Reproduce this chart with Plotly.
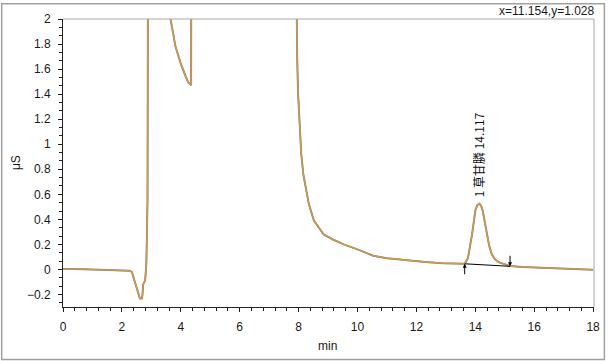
import plotly.graph_objects as go

# ---- data (min, µS) ----
time_min = [0.0, 0.3, 1.0, 1.5, 2.0, 2.25, 2.34, 2.42, 2.53, 2.61, 2.68, 2.70, 2.72,
            2.79, 2.83, 2.87, 2.89, 3.2, 3.6, 3.65, 3.82, 3.99, 4.15, 4.26, 4.32,
            4.35, 4.36, 6.0, 7.9, 7.92, 7.95, 7.98, 8.04, 8.09, 8.16, 8.24, 8.35,
            8.52, 8.85, 9.2, 9.53, 10.0, 10.53, 11.0, 11.76, 12.3, 12.88, 13.3,
            13.64, 13.75, 13.89, 14.0, 14.07, 14.14, 14.2, 14.25, 14.32, 14.39,
            14.47, 14.56, 14.67, 14.79, 15.0, 15.18, 15.6, 16.24, 17.0, 18.0]
signal_uS = [0.003, 0.004, 0.0, -0.002, -0.004, -0.01, -0.02, -0.087, -0.166, -0.232, -0.232, -0.2, -0.12,
             -0.087, 0.045, 0.55, 3.0, 3.5, 2.3, 2.0, 1.78, 1.65, 1.55, 1.49, 1.48,
             1.47, 3.0, 3.5, 3.0, 2.0, 1.71, 1.415, 1.15, 0.92, 0.76, 0.65, 0.52,
             0.39, 0.28, 0.235, 0.20, 0.16, 0.11, 0.09, 0.071, 0.06, 0.05, 0.047,
             0.045, 0.09, 0.28, 0.47, 0.515, 0.525, 0.505, 0.47, 0.38, 0.28,
             0.19, 0.12, 0.08, 0.058, 0.038, 0.027, 0.02, 0.013, 0.008, -0.002]

series_names = ["run 1", "run 2", "run 3"]
series_colors = ["#a0a0a0", "#8c7cc4", "#d9a11a"]
series_widths = [2.0, 1.5, 1.1]

baseline_x = [13.64, 15.18]
baseline_y = [0.045, 0.025]

peak_label = "1 草甘膦 14.117"
peak_label_x = 14.11
peak_label_y = 0.56

cursor_text = "x=11.154,y=1.028"

x_ticks = [0, 2, 4, 6, 8, 10, 12, 14, 16, 18]
y_ticks = [-0.2, 0, 0.2, 0.4, 0.6, 0.8, 1, 1.2, 1.4, 1.6, 1.8, 2]

# ---- layout geometry ----
W, H = 612, 361
L, R, T, B = 63, 600, 16, 307

def px(xp):
    return (xp - L) / (R - L)

def py(yp):
    return (B - yp) / (B - T)

fig = go.Figure()
for name, col, w in zip(series_names, series_colors, series_widths):
    fig.add_trace(go.Scatter(x=time_min, y=signal_uS, mode="lines", name=name,
                             line=dict(color=col, width=w), hoverinfo="skip"))

fig.add_trace(go.Scatter(x=baseline_x, y=baseline_y, mode="lines",
                         line=dict(color="#000000", width=1), hoverinfo="skip"))

font = dict(family="Liberation Sans, Arial, sans-serif", size=12, color="#1a1a1a")

fig.update_layout(
    width=W, height=H,
    margin=dict(l=L, r=W - R, t=T, b=H - B, pad=0),
    paper_bgcolor="white", plot_bgcolor="white",
    showlegend=False,
    font=font,
    xaxis=dict(range=[0, 18.03], tickvals=x_ticks, showgrid=False, zeroline=False,
               showline=True, linecolor="#222222", linewidth=1,
               ticks="outside", ticklen=4, tickcolor="#222222",
               ticklabelstandoff=5,
               minor=dict(dtick=0.4, ticks="outside", ticklen=3, tickcolor="#222222")),
    yaxis=dict(range=[-0.3, 2.0], tickvals=y_ticks, showgrid=False, zeroline=False,
               showline=True, linecolor="#222222", linewidth=1,
               ticks="outside", ticklen=4, tickcolor="#222222",
               ticklabelstandoff=5,
               minor=dict(dtick=0.2 / 3, tick0=0, ticks="outside", ticklen=3, tickcolor="#222222")),
)

shapes = [
    dict(type="line", xref="paper", yref="paper", x0=0, x1=1, y0=1, y1=1,
         line=dict(color="#a8a8a8", width=1)),
    dict(type="line", xref="paper", yref="paper", x0=1, x1=1, y0=0, y1=1,
         line=dict(color="#a8a8a8", width=1)),
    dict(type="rect", xref="paper", yref="paper", x0=px(1), x1=px(610.5), y0=py(360), y1=py(0.5),
         line=dict(color="#a0a0a0", width=1.5), fillcolor="rgba(0,0,0,0)"),
]
fig.update_layout(shapes=shapes)

annotations = [
    dict(text=peak_label, x=peak_label_x, y=peak_label_y, xref="x", yref="y",
         textangle=-90, showarrow=False, xanchor="center", yanchor="bottom",
         font=dict(family="Noto Sans CJK SC, sans-serif", size=12, color="#111111")),
    dict(x=baseline_x[0], y=baseline_y[0], xref="x", yref="y", ax=0, ay=12,
         showarrow=True, arrowhead=2, arrowsize=0.8, arrowwidth=1, arrowcolor="#000000", text=""),
    dict(x=baseline_x[1], y=baseline_y[1], xref="x", yref="y", ax=0, ay=-12,
         showarrow=True, arrowhead=2, arrowsize=0.8, arrowwidth=1, arrowcolor="#000000", text=""),
    dict(text=cursor_text, xref="paper", yref="paper", x=px(603), y=py(8),
         xanchor="right", yanchor="middle", showarrow=False, font=font),
    dict(text="μS", xref="paper", yref="paper", x=px(15), y=py(161),
         xanchor="center", yanchor="middle", textangle=-90, showarrow=False, font=font),
    dict(text="min", xref="paper", yref="paper", x=px(330), y=py(346),
         xanchor="center", yanchor="middle", showarrow=False, font=font),
]
fig.update_layout(annotations=annotations)

fig.write_html("out.html")
